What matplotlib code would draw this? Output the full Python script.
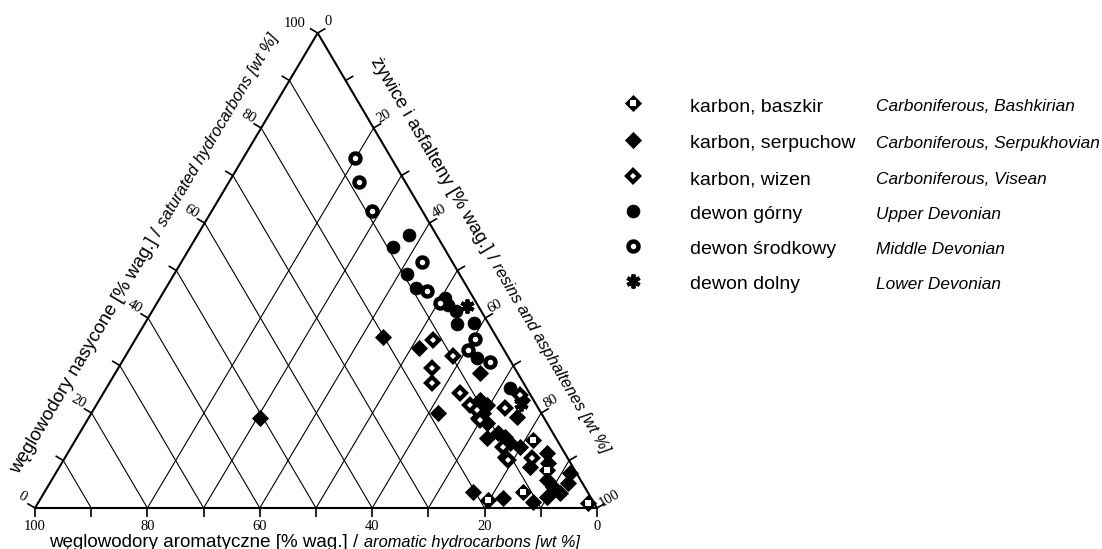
import numpy as np
import matplotlib
matplotlib.use('Agg')
import matplotlib.pyplot as plt

plt.rcParams['font.family'] = ['Liberation Sans', 'DejaVu Sans']

# composition in wt %: saturated (sat) and
# resins + asphaltenes (res); aromatic hydrocarbons make up the rest to 100
baszkir_sat = [14.3, 8.0, 3.4, 1.7, 1.1]
baszkir_res = [81.4, 87.1, 85.1, 79.8, 97.9]

serpuchow_sat = [18.9, 36.0, 33.7, 28.4, 20.0, 22.7, 21.7, 20.0, 18.9, 17.9,
                 14.7, 15.8, 14.9, 19.2, 22.7, 13.7, 12.8, 11.6, 9.5, 8.6,
                 7.4, 5.3, 5.9, 4.4, 2.3, 3.2, 3.4, 2.1, 1.3, 10.7]
serpuchow_res = [30.5, 43.8, 51.4, 64.9, 61.6, 67.7, 69.5, 69.6, 69.3, 71.4,
                 73.0, 74.4, 76.1, 76.1, 75.2, 77.6, 79.8, 85.3, 86.5, 83.7,
                 91.5, 92.2, 88.1, 89.9, 89.9, 91.8, 76.2, 82.2, 88.0, 78.2]

wizen_sat = [35.4, 32.0, 29.5, 26.3, 24.2, 21.7, 20.6, 21.1, 18.5, 12.8, 10.1, 10.5, 23.8]
wizen_res = [53.0, 58.3, 55.8, 57.4, 63.4, 66.5, 68.3, 73.0, 69.9, 76.8, 79.1, 83.1, 74.3]

gorny_sat = [57.5, 54.9, 49.3, 46.3, 44.2, 42.7, 41.5, 38.7, 38.9, 31.6, 25.3]
gorny_res = [37.6, 36.0, 41.4, 44.5, 50.7, 52.0, 54.0, 55.6, 58.5, 62.7, 71.8]

srodkowy_sat = [73.7, 68.6, 62.5, 51.8, 45.7, 43.2, 35.6, 33.3, 30.7]
srodkowy_res = [19.8, 23.1, 28.5, 42.8, 46.7, 50.3, 60.4, 60.3, 65.5]

dolny_sat = [42.5, 21.9]
dolny_res = [55.5, 75.4]

names_pl = ['karbon, baszkir', 'karbon, serpuchow', 'karbon, wizen',
            'dewon górny', 'dewon środkowy', 'dewon dolny']
names_en = ['Carboniferous, Bashkirian', 'Carboniferous, Serpukhovian',
            'Carboniferous, Visean', 'Upper Devonian', 'Middle Devonian',
            'Lower Devonian']

tick_labels = [0, 20, 40, 60, 80, 100]

# marker styles
sty_serp = dict(marker='D', ms=8.0, mfc='k', mec='k', mew=0.6, ls='none')
sty_wiz = dict(marker='D', ms=5.9, mfc='w', mec='k', mew=3.0, ls='none')
sty_bas = dict(marker='D', ms=8.2, mfc='k', mec='k', mew=0.6, ls='none')
sty_bas_in = dict(marker='s', ms=4.8, mfc='w', mec='w', mew=0, ls='none')
sty_gor = dict(marker='o', ms=9.2, mfc='k', mec='k', mew=0.6, ls='none')
sty_sro = dict(marker='o', ms=7.2, mfc='w', mec='k', mew=3.2, ls='none')
sty_dol = dict(marker=(6, 2, 0), ms=10, mfc='k', mec='k', mew=2.8, ls='none')


def tern(sat, res):
    sat = np.asarray(sat, float)
    res = np.asarray(res, float)
    return res + 0.503 * sat, sat


fig = plt.figure(figsize=(11.02, 5.49), dpi=100)
ax = fig.add_axes([0, 0, 1, 1])
ax.set_xlim(-6.23, 189.86)
ax.set_ylim(-8.63, 106.95)
ax.axis('off')


def to_px(sat, res):
    return ax.transData.transform(np.column_stack(tern(sat, res)))[0]


def from_px(p):
    return ax.transData.inverted().transform(p)


def seg_px(p, q, **kw):
    a = from_px(p)
    b = from_px(q)
    ax.plot([a[0], b[0]], [a[1], b[1]], color='k', solid_capstyle='butt', **kw)


BL = to_px(0, 0)
BR = to_px(0, 100)
TP = to_px(100, 0)
dL = (TP - BL) / np.linalg.norm(TP - BL)
nL = np.array([-dL[1], dL[0]])
dR = (BR - TP) / np.linalg.norm(BR - TP)
nR = np.array([-dR[1], dR[0]])
angL = np.degrees(np.arctan2(dL[1], dL[0]))
angR = np.degrees(np.arctan2(dR[1], dR[0]))

# grid: constant aromatic lines and constant resin lines
for a in range(10, 100, 10):
    x, y = tern([100 - a, 0], [0, 100 - a])
    ax.plot(x, y, color='k', lw=0.8)
for r in range(20, 100, 10):
    x, y = tern([100 - r, 0], [r, r])
    ax.plot(x, y, color='k', lw=0.8)

# triangle frame
x, y = tern([0, 0, 100, 0], [0, 100, 0, 0])
ax.plot(x, y, color='k', lw=1.5)

# ticks
tl = 9
for v in range(0, 101, 10):
    p = to_px(0, 100 - v)
    seg_px(p, p + np.array([0, -tl]), lw=1.2)
    p = to_px(v, 0)
    seg_px(p, p + nL * tl, lw=1.2)
    p = to_px(100 - v, v)
    seg_px(p, p + nR * tl, lw=1.2)

serif = ['Liberation Serif', 'DejaVu Serif']
for v in tick_labels:
    p = to_px(0, 100 - v)
    q = from_px(p + np.array([0, -18]))
    ax.text(q[0], q[1], str(v), family=serif, fontsize=10.5,
            ha='center', va='center')
    if v < 100:
        q = from_px(to_px(v, 0) + np.array([-13, 11]))
        ax.text(q[0], q[1], str(v), family=serif, fontsize=10.5,
                ha='center', va='center', rotation=-30)
        q = from_px(to_px(100 - v, v) + np.array([10, 12]))
        ax.text(q[0], q[1], str(v), family=serif, fontsize=10.5,
                ha='center', va='center', rotation=30 if v > 0 else 0)
    else:
        q = from_px(to_px(100, 0) + np.array([-23, 10]))
        ax.text(q[0], q[1], '100', family=serif, fontsize=10.5,
                ha='center', va='center')
        q = from_px(to_px(0, 100) + np.array([12, 10]))
        ax.text(q[0], q[1], '100', family=serif, fontsize=10.5,
                ha='center', va='center', rotation=30)

renderer = fig.canvas.get_renderer()


def text_width(s, **kw):
    t = fig.text(0, 0, s, **kw)
    w = t.get_window_extent(renderer).width
    t.remove()
    return w


def axis_title(start, d, ang, pl, en):
    q = from_px(start)
    ax.text(q[0], q[1], pl, fontsize=13.5, rotation=ang,
            rotation_mode='anchor', ha='left', va='baseline')
    w = text_width(pl, fontsize=13.5)
    q = from_px(start + d * w)
    ax.text(q[0], q[1], en, fontsize=11.8, style='italic', rotation=ang,
            rotation_mode='anchor', ha='left', va='baseline')


axis_title(BL + dL * 20 + nL * 31, dL, angL,
           'węglowodory nasycone [% wag.] / ', 'saturated hydrocarbons [wt %]')
axis_title(TP + dR * 51 + nR * 31, dR, angR,
           'żywice i asfalteny [% wag.] / ', 'resins and asphaltenes [wt %]')
axis_title(BL + np.array([14, -39]), np.array([1.0, 0.0]), 0,
           'węglowodory aromatyczne [% wag.] / ', 'aromatic hydrocarbons [wt %]')

# data points
ax.plot(*tern(serpuchow_sat, serpuchow_res), **sty_serp)
ax.plot(*tern(wizen_sat, wizen_res), **sty_wiz)
ax.plot(*tern(baszkir_sat, baszkir_res), **sty_bas)
ax.plot(*tern(baszkir_sat, baszkir_res), **sty_bas_in)
ax.plot(*tern(gorny_sat, gorny_res), **sty_gor)
ax.plot(*tern(srodkowy_sat, srodkowy_res), **sty_sro)
ax.plot(*tern(dolny_sat, dolny_res), **sty_dol)

# legend
rows = [103, 140, 176, 211, 246, 281]
styles = [[sty_bas, sty_bas_in], [sty_serp], [sty_wiz], [sty_gor], [sty_sro], [sty_dol]]
for py, sts, pl, en in zip(rows, styles, names_pl, names_en):
    yf = 1 - py / 549
    for st in sts:
        ax.plot([633 / 1102], [yf], transform=ax.transAxes, clip_on=False, **st)
    yb = 1 - (py + 8) / 549
    ax.text(690 / 1102, yb, pl, transform=ax.transAxes, fontsize=14,
            ha='left', va='baseline')
    ax.text(876 / 1102, yb, en, transform=ax.transAxes, fontsize=12.4,
            style='italic', ha='left', va='baseline')

fig.savefig('out.png', dpi=100)
